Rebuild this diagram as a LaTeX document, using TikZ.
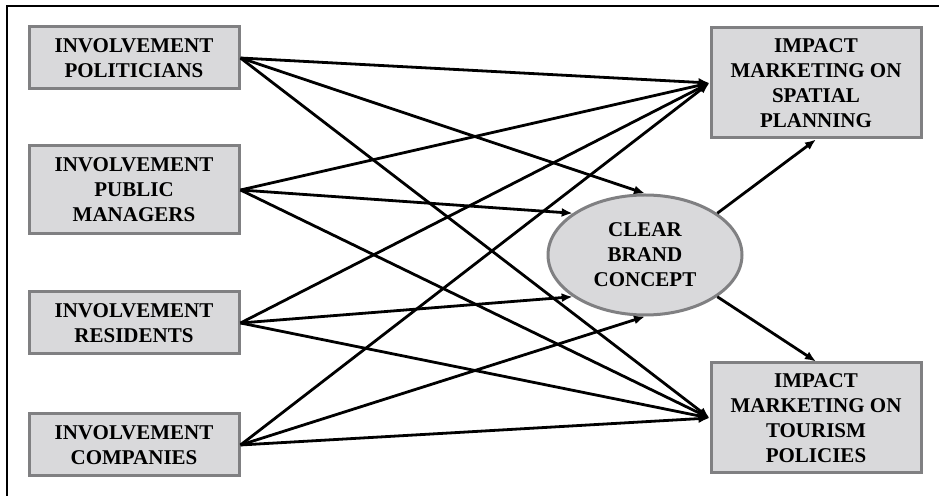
\documentclass[tikz,border=0pt]{standalone}
\usepackage{fontspec}
\setmainfont{Liberation Serif}
\usetikzlibrary{shapes.geometric,arrows.meta}
\definecolor{boxfill}{RGB}{217,217,219}
\definecolor{boxline}{RGB}{128,128,130}
\begin{document}
\begin{tikzpicture}[x=0.5pt,y=-0.5pt,
	factor/.style={draw=boxline,line width=1.5pt,fill=boxfill,minimum width=105pt,align=center,inner sep=0pt,font=\bfseries\fontsize{10.5}{12.5}\selectfont},
	brand/.style={factor,ellipse,minimum width=97pt,minimum height=60pt},
	link/.style={line width=1.4pt,-{Latex[length=5.5pt,width=4.5pt]}}]
			\useasboundingbox (0,0) rectangle (939,496);
			\draw[line width=1.2pt] (939,6) -- (7,6) -- (7,496);
			
			\node[factor,minimum height=31pt] (pol) at (134,58) {INVOLVEMENT\\POLITICIANS};
			\node[factor,minimum height=44pt] (pub) at (134,190) {INVOLVEMENT\\PUBLIC\\MANAGERS};
			\node[factor,minimum height=31pt] (res) at (134,323) {INVOLVEMENT\\RESIDENTS};
			\node[factor,minimum height=31pt] (com) at (134,445) {INVOLVEMENT\\COMPANIES};
			\node[brand] (bc) at (645,255) {CLEAR\\BRAND\\CONCEPT};
			\node[factor,minimum height=55pt] (spa) at (816,83) {IMPACT\\MARKETING ON\\SPATIAL\\PLANNING};
			\node[factor,minimum height=55pt] (tou) at (816,418) {IMPACT\\MARKETING ON\\TOURISM\\POLICIES};
			
			\draw[link] (pol.east) -- (spa.west);
			\draw[link] (pol.east) -- (bc.north);
			\draw[link] (pol.east) -- (tou.west);
			\draw[link] (pub.east) -- (spa.west);
			\draw[link] (pub.east) -- (bc.150);
			\draw[link] (pub.east) -- (tou.west);
			\draw[link] (res.east) -- (spa.west);
			\draw[link] (res.east) -- (bc.210);
			\draw[link] (res.east) -- (tou.west);
			\draw[link] (com.east) -- (spa.west);
			\draw[link] (com.east) -- (bc.south);
			\draw[link] (com.east) -- (tou.west);
			
			\draw[link] (bc.30) -- (spa.south);
			\draw[link] (bc.-30) -- (tou.north);
			\end{tikzpicture}
\end{document}
